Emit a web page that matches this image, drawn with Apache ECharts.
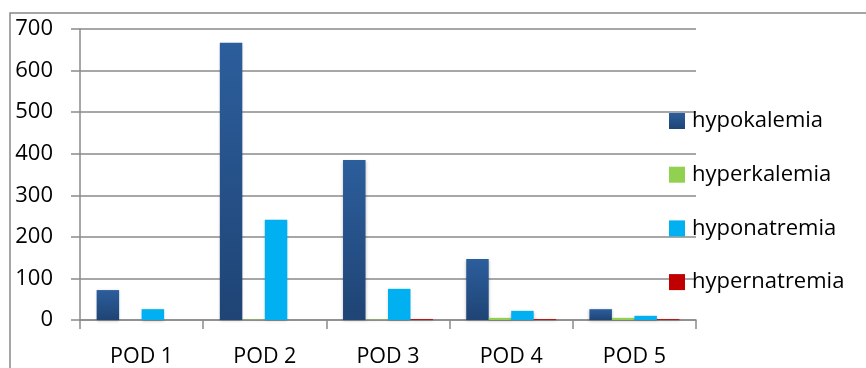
<!DOCTYPE html>
<html>
<head>
<meta charset="utf-8">
<script src="https://cdn.jsdelivr.net/npm/echarts@6/dist/echarts.min.js"></script>
<style>
  html, body { margin: 0; padding: 0; background: #fff; }
  #chart { width: 866px; height: 368px; }
</style>
</head>
<body>
<div id="chart"></div>
<script>
// categories and values
var days = ['POD 1', 'POD 2', 'POD 3', 'POD 4', 'POD 5']
var hypokalemia = [72, 667, 385, 147, 26]
var hyperkalemia = [0, 1, 1, 5, 5]
var hyponatremia = [26, 241, 75, 22, 10]
var hypernatremia = [0, 0, 2, 2, 2]

var myChart = echarts.init(document.getElementById('chart'))
var fontName = 'Open Sans'

function bar(name, data, color) {
  return {
    name: name,
    type: 'bar',
    data: data,
    barGap: 0,
    barCategoryGap: '27%',
    itemStyle: {
      color: color,
      shadowColor: 'rgba(0,0,0,0.25)',
      shadowBlur: 3,
      shadowOffsetY: 1
    }
  }
}

myChart.setOption({
  animation: false,
  textStyle: { fontFamily: fontName },
  graphic: [
    {
      type: 'rect',
      shape: { x: 10, y: 13, width: 900, height: 400 },
      style: { fill: 'none', stroke: '#888', lineWidth: 1.5 },
      silent: true
    }
  ],
  grid: { left: 80, right: 170, top: 29, bottom: 48 },
  legend: {
    orient: 'vertical',
    left: 669,
    top: 110,
    padding: 0,
    itemWidth: 16,
    itemHeight: 16,
    itemGap: 31.7,
    icon: 'rect',
    textStyle: { fontSize: 22, lineHeight: 16, color: '#000', fontFamily: fontName, padding: [0, 0, 0, 2] },
    data: ['hypokalemia', 'hyperkalemia', 'hyponatremia', 'hypernatremia']
  },
  xAxis: {
    type: 'category',
    data: days,
    axisLine: { lineStyle: { color: '#8a8a8a', width: 1.5 } },
    axisTick: { show: true, length: 9, lineStyle: { color: '#8a8a8a', width: 1.5 } },
    axisLabel: { fontSize: 21.5, color: '#000', margin: 26, fontFamily: fontName }
  },
  yAxis: {
    type: 'value',
    min: 0,
    max: 700,
    interval: 100,
    axisLine: { show: true, lineStyle: { color: '#8a8a8a', width: 1.5 } },
    axisTick: { show: true, length: 9, lineStyle: { color: '#8a8a8a', width: 1.5 } },
    splitLine: { lineStyle: { color: '#8a8a8a', width: 1.5 } },
    axisLabel: { fontSize: 22, color: '#000', margin: 27, fontFamily: fontName }
  },
  series: [
    bar('hypokalemia', hypokalemia, new echarts.graphic.LinearGradient(0, 0, 0, 1, [
      { offset: 0, color: '#2c5e9c' },
      { offset: 1, color: '#1f4475' }
    ])),
    bar('hyperkalemia', hyperkalemia, '#92d050'),
    bar('hyponatremia', hyponatremia, '#00b0f0'),
    bar('hypernatremia', hypernatremia, '#c00000')
  ]
})
</script>
</body>
</html>
